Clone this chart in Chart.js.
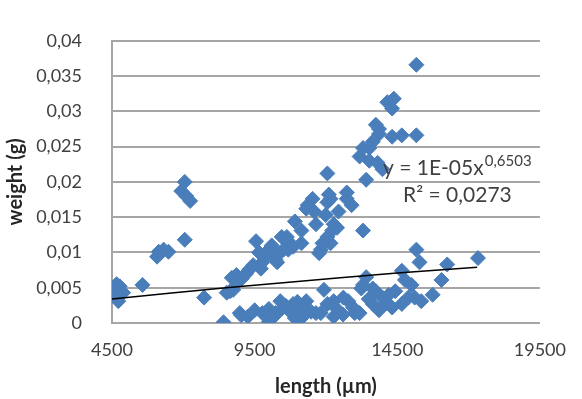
<!DOCTYPE html>
<html>
<head>
<meta charset="utf-8">
<script src="https://cdn.jsdelivr.net/npm/chart.js@4.4.1/dist/chart.umd.min.js"></script>
<style>
  html, body { margin: 0; padding: 0; background: #fff; }
</style>
</head>
<body>
<canvas id="chart-weight-length" width="582" height="399"></canvas>
<script>
// Weight vs length scatter, power trendline
const lengthUm = [
  4550, 4600, 4660, 4720, 4770, 4890, 5570,
  6080, 6140, 6310, 6480,
  6930, 7050, 7100, 7240, 7050,
  7730, 8410, 8520, 8640, 8750, 8700, 8860, 8920, 8980, 9030, 9050, 9150, 9200, 9260,
  9320, 9450, 9500, 9550, 9650, 9720, 9770, 9770, 9900, 10000, 10000, 10000,
  10060, 10100, 10170, 10230, 10230, 10290, 10350, 10400, 10450, 10450, 10510, 10600,
  10630, 10680, 10700, 10800, 10850, 10850, 10910, 10910, 11000, 11140, 11140, 11140, 11140,
  11310, 11310, 11360, 11360, 11480, 11530, 11590, 11650, 11650, 11760, 11820, 11820, 11880,
  11930, 11990, 12050, 12050, 12050, 12050, 12050, 12100, 12160, 12160, 12220, 12270, 12270,
  12270, 12330, 12390, 12440, 12600, 12610, 12730, 12730, 12780, 12900, 12950, 13010,
  13180, 13180, 13240, 13300, 13300, 13300, 13410, 13410, 13500, 13520, 13520,
  13640, 13640, 13640, 13750, 13750, 13810, 13860, 13860, 13860, 13980, 13980, 14100,
  14150, 14200, 14320, 14320, 14320, 14380, 14430, 14660, 14660, 14660, 14770, 14890,
  15000, 15110, 15170, 15170, 15170, 15280, 15340, 15740, 16050, 16250, 17330
];
const weightG = [
  0.0047, 0.0038, 0.0055, 0.0031, 0.0052, 0.0043, 0.0054,
  0.0094, 0.0101, 0.0104, 0.0101,
  0.0187, 0.0200, 0.0180, 0.0173, 0.0118,
  0.0036, 0.0001, 0.0043, 0.0045, 0.0047, 0.0064, 0.0068, 0.0059, 0.0014, 0.0011, 0.0063, 0.0068, 0.0070, 0.0009,
  0.0076, 0.0082, 0.0018, 0.0116, 0.0100, 0.0077, 0.0086, 0.0014, 0.0095, 0.0104, 0.0020, 0.0002,
  0.0099, 0.0110, 0.0009, 0.0090, 0.0014, 0.0086, 0.0098, 0.0031, 0.0122, 0.0020, 0.0104, 0.0024,
  0.0122, 0.0104, 0.0115, 0.0014, 0.0108, 0.0027, 0.0144, 0.0007, 0.0030, 0.0131, 0.0113, 0.0020, 0.0007,
  0.0162, 0.0031, 0.0167, 0.0018, 0.0016, 0.0176, 0.0158, 0.0140, 0.0014, 0.0099, 0.0104, 0.0014, 0.0113,
  0.0047, 0.0153, 0.0212, 0.0171, 0.0122, 0.0117, 0.0027, 0.0182, 0.0176, 0.0113, 0.0131, 0.0140, 0.0031,
  0.0009, 0.0022, 0.0135, 0.0158, 0.0012, 0.0036, 0.0185, 0.0176, 0.0031, 0.0167, 0.0022, 0.0014,
  0.0236, 0.0014, 0.0049, 0.0248, 0.0131, 0.0054, 0.0203, 0.0065, 0.0034, 0.0248, 0.0230,
  0.0257, 0.0049, 0.0027, 0.0281, 0.0045, 0.0227, 0.0275, 0.0268, 0.0018, 0.0218, 0.0036, 0.0028,
  0.0313, 0.0040, 0.0304, 0.0264, 0.0022, 0.0318, 0.0045, 0.0266, 0.0074, 0.0027, 0.0061, 0.0036,
  0.0054, 0.0036, 0.0366, 0.0266, 0.0104, 0.0086, 0.0031, 0.0040, 0.0061, 0.0083, 0.0092
];

// trendline as drawn in the figure
const trendLength = [4500, 6500, 8500, 10500, 12500, 14500, 17300];
const trendWeight = [0.0034, 0.0042, 0.0050, 0.0057, 0.0064, 0.0071, 0.0079];

const xTickValues = [4500, 9500, 14500, 19500];
const yTickValues = [0, 0.005, 0.01, 0.015, 0.02, 0.025, 0.03, 0.035, 0.04];

const eqText = 'y = 1E-05x';
const eqExponent = '0,6503';
const r2Text = 'R² = 0,0273';

const textColor = '#404040';
const gridColor = '#a6a6a6';
const markerColor = '#4a7ebb';

const points = lengthUm.map((x, i) => ({ x: x, y: weightG[i] }));
const trendPoints = trendLength.map((x, i) => ({ x: x, y: trendWeight[i] }));

// Equation and R² text beside the trendline
const trendLabelPlugin = {
  id: 'trendLabel',
  afterDatasetsDraw(chart) {
    const ctx = chart.ctx;
    ctx.save();
    ctx.fillStyle = textColor;
    ctx.textBaseline = 'alphabetic';
    ctx.textAlign = 'left';
    ctx.font = '21px Lato';
    ctx.fillText(eqText, 383, 175);
    const w = ctx.measureText(eqText).width;
    ctx.font = '15px Lato';
    ctx.fillText(eqExponent, 383 + w + 1, 166);
    ctx.font = '21px Lato';
    ctx.fillText(r2Text, 403, 202);
    ctx.restore();
  }
};

function formatComma(v) {
  return String(Math.round(v * 1000) / 1000).replace('.', ',');
}

new Chart(document.getElementById('chart-weight-length'), {
  type: 'scatter',
  data: {
    datasets: [
      {
        label: 'trend',
        data: trendPoints,
        showLine: true,
        borderColor: '#000000',
        borderWidth: 1.5,
        pointRadius: 0,
        fill: false
      },
      {
        label: 'weight',
        data: points,
        pointStyle: 'rectRot',
        pointRadius: 7.5,
        backgroundColor: markerColor,
        borderColor: markerColor,
        borderWidth: 1
      }
    ]
  },
  options: {
    responsive: false,
    animation: false,
    layout: { padding: { top: 28, right: 30, left: 0, bottom: 0 } },
    plugins: {
      legend: { display: false },
      tooltip: { enabled: false }
    },
    scales: {
      x: {
        type: 'linear',
        min: 4500,
        max: 19500,
        afterBuildTicks: s => { s.ticks = xTickValues.map(v => ({ value: v })); },
        afterFit: s => { s.height = 76; },
        grid: { display: false, drawTicks: false },
        border: { display: true, color: gridColor, width: 2 },
        ticks: {
          padding: 16,
          maxRotation: 0,
          autoSkip: false,
          color: textColor,
          font: { family: 'Lato', size: 18 },
          callback: v => String(v)
        },
        title: {
          display: true,
          text: 'length (µm)',
          color: '#262626',
          padding: 0,
          font: { family: 'Lato', size: 20, weight: 'bold' }
        }
      },
      y: {
        type: 'linear',
        min: 0,
        max: 0.04,
        afterBuildTicks: s => { s.ticks = yTickValues.map(v => ({ value: v })); },
        afterFit: s => { s.width = 112; },
        grid: { color: gridColor, lineWidth: 2, drawTicks: false },
        border: { display: true, color: gridColor, width: 2 },
        ticks: {
          padding: 30,
          color: textColor,
          font: { family: 'Lato', size: 18 },
          callback: v => formatComma(v)
        },
        title: {
          display: true,
          text: 'weight (g)',
          color: '#262626',
          padding: { top: 4, bottom: 0 },
          font: { family: 'Lato', size: 20, weight: 'bold' }
        }
      }
    }
  },
  plugins: [trendLabelPlugin]
});
</script>
</body>
</html>
